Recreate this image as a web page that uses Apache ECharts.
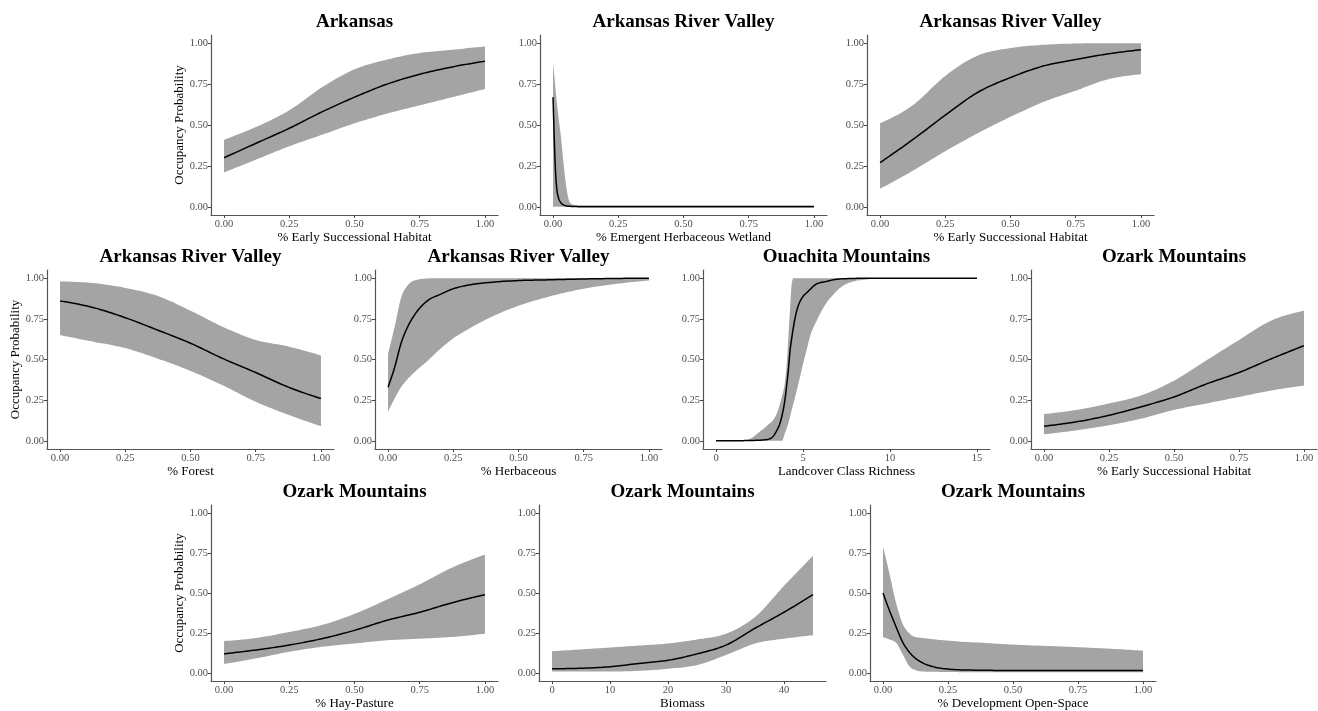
<!DOCTYPE html>
<html>
<head>
<meta charset="utf-8">
<script src="https://cdn.jsdelivr.net/npm/echarts@6/dist/echarts.min.js"></script>
<style>
html,body{margin:0;padding:0;background:#fff;}
#chart{width:1318px;height:711px;}
</style>
</head>
<body>
<div id="chart"></div>
<script>
// ---------- data ----------
const yTicks = [0, 0.25, 0.5, 0.75, 1];
const propTicks = [0, 0.25, 0.5, 0.75, 1];
const richTicks = [0, 5, 10, 15];
const biomassTicks = [0, 10, 20, 30, 40];

const titles = ["Arkansas", "Arkansas River Valley", "Arkansas River Valley",
  "Arkansas River Valley", "Arkansas River Valley", "Ouachita Mountains", "Ozark Mountains",
  "Ozark Mountains", "Ozark Mountains", "Ozark Mountains"];
const xNames = ["% Early Successional Habitat", "% Emergent Herbaceous Wetland", "% Early Successional Habitat",
  "% Forest", "% Herbaceous", "Landcover Class Richness", "% Early Successional Habitat",
  "% Hay-Pasture", "Biomass", "% Development Open-Space"];
const yName = "Occupancy Probability";

const xEighths = [0, 0.125, 0.25, 0.375, 0.5, 0.625, 0.75, 0.875, 1];

// 1 Arkansas – early successional
const p1X = xEighths;
const p1Mean = [0.30, 0.39, 0.48, 0.58, 0.67, 0.75, 0.81, 0.855, 0.89];
const p1Upper = [0.41, 0.49, 0.59, 0.73, 0.84, 0.90, 0.94, 0.96, 0.98];
const p1Lower = [0.21, 0.29, 0.37, 0.44, 0.51, 0.57, 0.62, 0.67, 0.72];

// 2 ARV – emergent herbaceous wetland
const p2X = [0, 0.005, 0.01, 0.015, 0.02, 0.03, 0.04, 0.05, 0.065, 0.08, 0.1, 0.12, 0.25, 0.5, 0.75, 1];
const p2Mean = [0.67, 0.40, 0.20, 0.10, 0.06, 0.025, 0.012, 0.006, 0.003, 0.002, 0.001, 0.001, 0, 0, 0, 0];
const p2Upper = [0.88, 0.80, 0.71, 0.63, 0.56, 0.43, 0.27, 0.13, 0.025, 0.012, 0.01, 0.01, 0.01, 0.01, 0.01, 0.01];
const p2Lower = [0, 0, 0, 0, 0, 0, 0, 0, 0, 0, 0, 0, 0, 0, 0, 0];

// 3 ARV – early successional
const p3X = xEighths;
const p3Mean = [0.27, 0.41, 0.56, 0.70, 0.79, 0.86, 0.90, 0.935, 0.96];
const p3Upper = [0.51, 0.62, 0.80, 0.925, 0.97, 0.99, 0.998, 1.0, 1.0];
const p3Lower = [0.11, 0.22, 0.34, 0.45, 0.55, 0.64, 0.71, 0.78, 0.81];

// 4 ARV – forest
const p4X = xEighths;
const p4Mean = [0.86, 0.82, 0.757, 0.68, 0.60, 0.505, 0.42, 0.33, 0.26];
const p4Upper = [0.98, 0.97, 0.94, 0.89, 0.80, 0.70, 0.62, 0.58, 0.525];
const p4Lower = [0.65, 0.61, 0.57, 0.505, 0.43, 0.34, 0.24, 0.16, 0.09];

// 5 ARV – herbaceous
const p5X = [0, 0.025, 0.05, 0.075, 0.1, 0.15, 0.2, 0.25, 0.3, 0.4, 0.5, 0.625, 0.75, 0.875, 1];
const p5Mean = [0.33, 0.45, 0.60, 0.70, 0.77, 0.86, 0.90, 0.935, 0.955, 0.975, 0.985, 0.99, 0.995, 0.998, 1.0];
const p5Upper = [0.535, 0.70, 0.88, 0.955, 0.985, 0.998, 1, 1, 1, 1, 1, 1, 1, 1, 1];
const p5Lower = [0.18, 0.26, 0.33, 0.38, 0.42, 0.49, 0.565, 0.63, 0.68, 0.765, 0.83, 0.89, 0.935, 0.965, 0.985];

// 6 Ouachita – landcover class richness
const p6X = [0, 1, 1.75, 2.5, 3, 3.3, 3.5, 3.68, 3.78, 3.97, 4.07, 4.16, 4.26, 4.35, 4.45, 4.64, 4.8, 5.02, 5.21, 5.4, 5.79, 6.36, 6.75, 7.13, 7.9, 8.5, 10, 15];
const p6Mean = [0, 0, 0.002, 0.004, 0.01, 0.03, 0.065, 0.11, 0.15, 0.26, 0.35, 0.44, 0.56, 0.63, 0.70, 0.80, 0.85, 0.89, 0.91, 0.93, 0.965, 0.98, 0.99, 0.995, 0.998, 1, 1, 1];
const p6Upper = [0, 0.002, 0.006, 0.055, 0.10, 0.13, 0.17, 0.23, 0.27, 0.37, 0.48, 0.64, 0.82, 0.965, 1, 1, 1, 1, 1, 1, 1, 1, 1, 1, 1, 1, 1, 1];
const p6Lower = [0, 0, 0, 0, 0, 0, 0, 0, 0, 0.05, 0.08, 0.11, 0.15, 0.19, 0.23, 0.31, 0.38, 0.48, 0.56, 0.64, 0.74, 0.85, 0.90, 0.94, 0.98, 0.99, 1, 1];

// 7 Ozark – early successional
const p7X = xEighths;
const p7Mean = [0.09, 0.117, 0.157, 0.21, 0.27, 0.35, 0.42, 0.505, 0.585];
const p7Upper = [0.165, 0.19, 0.23, 0.28, 0.37, 0.495, 0.62, 0.74, 0.80];
const p7Lower = [0.04, 0.065, 0.096, 0.137, 0.19, 0.23, 0.27, 0.31, 0.34];

// 8 Ozark – hay-pasture
const p8X = xEighths;
const p8Mean = [0.12, 0.145, 0.175, 0.215, 0.267, 0.33, 0.38, 0.44, 0.49];
const p8Upper = [0.20, 0.22, 0.257, 0.30, 0.37, 0.46, 0.555, 0.66, 0.74];
const p8Lower = [0.057, 0.092, 0.133, 0.164, 0.185, 0.205, 0.215, 0.226, 0.246];

// 9 Ozark – biomass
const p9X = [0, 5, 10, 15, 20, 25, 30, 35, 40, 45];
const p9Mean = [0.027, 0.03, 0.04, 0.06, 0.08, 0.12, 0.175, 0.28, 0.38, 0.49];
const p9Upper = [0.137, 0.148, 0.16, 0.172, 0.185, 0.21, 0.246, 0.35, 0.545, 0.733];
const p9Lower = [0.01, 0.01, 0.01, 0.014, 0.027, 0.05, 0.113, 0.185, 0.215, 0.236];

// 10 Ozark – development open-space
const p10X = [0, 0.025, 0.05, 0.075, 0.1, 0.125, 0.15, 0.2, 0.25, 0.3, 0.375, 0.5, 0.625, 0.75, 0.875, 1];
const p10Mean = [0.50, 0.39, 0.29, 0.195, 0.133, 0.092, 0.066, 0.037, 0.025, 0.02, 0.018, 0.016, 0.016, 0.016, 0.016, 0.016];
const p10Upper = [0.79, 0.62, 0.44, 0.31, 0.25, 0.225, 0.22, 0.21, 0.203, 0.196, 0.19, 0.178, 0.17, 0.162, 0.152, 0.14];
const p10Lower = [0.225, 0.21, 0.19, 0.12, 0.045, 0.018, 0.01, 0.008, 0.007, 0.006, 0.006, 0.005, 0.005, 0.005, 0.005, 0.005];

// ---------- layout ----------
const FONT = "'Liberation Serif', 'DejaVu Serif', serif";
const panels = [
  {x: p1X, m: p1Mean, u: p1Upper, l: p1Lower, ticks: propTicks, range: [-0.05, 1.05], dec: 2, grid: [211, 35, 287, 180], yTitle: true},
  {x: p2X, m: p2Mean, u: p2Upper, l: p2Lower, ticks: propTicks, range: [-0.05, 1.05], dec: 2, grid: [540, 35, 287, 180]},
  {x: p3X, m: p3Mean, u: p3Upper, l: p3Lower, ticks: propTicks, range: [-0.05, 1.05], dec: 2, grid: [867, 35, 287, 180]},
  {x: p4X, m: p4Mean, u: p4Upper, l: p4Lower, ticks: propTicks, range: [-0.05, 1.05], dec: 2, grid: [47, 270, 287, 179], yTitle: true},
  {x: p5X, m: p5Mean, u: p5Upper, l: p5Lower, ticks: propTicks, range: [-0.05, 1.05], dec: 2, grid: [375, 270, 287, 179]},
  {x: p6X, m: p6Mean, u: p6Upper, l: p6Lower, ticks: richTicks, range: [-0.75, 15.75], dec: 0, grid: [703, 270, 287, 179]},
  {x: p7X, m: p7Mean, u: p7Upper, l: p7Lower, ticks: propTicks, range: [-0.05, 1.05], dec: 2, grid: [1031, 270, 286, 179]},
  {x: p8X, m: p8Mean, u: p8Upper, l: p8Lower, ticks: propTicks, range: [-0.05, 1.05], dec: 2, grid: [211, 505, 287, 178], yTitle: true},
  {x: p9X, m: p9Mean, u: p9Upper, l: p9Lower, ticks: biomassTicks, range: [-2.25, 47.25], dec: 0, grid: [539, 505, 287, 178]},
  {x: p10X, m: p10Mean, u: p10Upper, l: p10Lower, ticks: propTicks, range: [-0.05, 1.05], dec: 2, grid: [870, 505, 286, 178]}
];

// monotone (Fritsch–Carlson / d3 monotoneX) curve through pixel points, for drawing only
function monoCurve(pts, seg) {
  const n = pts.length;
  if (n < 3) return pts.slice();
  const h = [], m = [];
  for (let i = 0; i < n - 1; i++) {
    h[i] = pts[i + 1][0] - pts[i][0];
    m[i] = h[i] ? (pts[i + 1][1] - pts[i][1]) / h[i] : 0;
  }
  const t = new Array(n);
  for (let i = 1; i < n - 1; i++) {
    const s0 = m[i - 1], s1 = m[i], h0 = h[i - 1], h1 = h[i];
    const p = (s0 * h1 + s1 * h0) / (h0 + h1);
    t[i] = (Math.sign(s0) + Math.sign(s1)) * Math.min(Math.abs(s0), Math.abs(s1), 0.5 * Math.abs(p)) || 0;
  }
  t[0] = (3 * m[0] - t[1]) / 2;
  t[n - 1] = (3 * m[n - 2] - t[n - 2]) / 2;
  if (Math.sign(t[0]) !== Math.sign(m[0])) t[0] = 0;
  if (Math.sign(t[n - 1]) !== Math.sign(m[n - 2])) t[n - 1] = 0;
  const out = [pts[0]];
  for (let i = 0; i < n - 1; i++) {
    const [x0, y0] = pts[i], [x1, y1] = pts[i + 1], dx = h[i];
    for (let s = 1; s <= seg; s++) {
      const u = s / seg, u2 = u * u, u3 = u2 * u;
      const y = (2 * u3 - 3 * u2 + 1) * y0 + (u3 - 2 * u2 + u) * dx * t[i] +
                (-2 * u3 + 3 * u2) * y1 + (u3 - u2) * dx * t[i + 1];
      out.push([x0 + u * dx, y]);
    }
  }
  return out;
}

const grids = [], xAxes = [], yAxes = [], series = [], graphics = [];
const axisCommon = {
  axisLine: {show: true, onZero: false, lineStyle: {color: '#555', width: 1.2}},
  splitLine: {show: false},
  nameTextStyle: {fontFamily: FONT, fontSize: 13, color: '#000'}
};

panels.forEach((p, i) => {
  const [gl, gt, gw, gh] = p.grid;
  grids.push({left: gl, top: gt, width: gw, height: gh, containLabel: false});
  xAxes.push(Object.assign({}, axisCommon, {
    type: 'value', gridIndex: i, min: p.range[0], max: p.range[1],
    axisTick: {show: true, length: 3, customValues: p.ticks, lineStyle: {color: '#444'}},
    axisLabel: {customValues: p.ticks, color: '#4d4d4d', fontFamily: FONT, fontSize: 10.5, margin: 4,
      formatter: v => Number(v).toFixed(p.dec)},
    name: xNames[i], nameLocation: 'middle', nameGap: 15
  }));
  yAxes.push(Object.assign({}, axisCommon, {
    type: 'value', gridIndex: i, min: -0.05, max: 1.05,
    axisTick: {show: true, length: 3, customValues: yTicks, lineStyle: {color: '#444'}},
    axisLabel: {customValues: yTicks, color: '#4d4d4d', fontFamily: FONT, fontSize: 10.5, margin: 3,
      formatter: v => Number(v).toFixed(2)},
    name: p.yTitle ? yName : '', nameLocation: 'middle', nameGap: 21
  }));
  const xs = p.x, lo = p.l, hi = p.u, mean = p.m;
  series.push({
    type: 'custom', xAxisIndex: i, yAxisIndex: i, silent: true, z: 2,
    data: xs.map((x, k) => [x, lo[k], hi[k], mean[k]]),
    encode: {x: 0, y: [1, 2, 3]},
    renderItem: function (params, api) {
      if (params.dataIndex !== 0) return null;
      const up = monoCurve(xs.map((x, k) => api.coord([x, hi[k]])), 12);
      const dn = monoCurve(xs.map((x, k) => api.coord([x, lo[k]])), 12);
      const mid = monoCurve(xs.map((x, k) => api.coord([x, mean[k]])), 12);
      return {
        type: 'group',
        children: [
          {type: 'polygon', shape: {points: up.concat(dn.reverse())}, style: {fill: '#a4a4a4', stroke: null}},
          {type: 'polyline', shape: {points: mid}, style: {stroke: '#000', lineWidth: 1.5, fill: null}}
        ]
      };
    }
  });
  graphics.push({
    type: 'text', x: gl + gw / 2, y: gt - 13,
    style: {text: titles[i], fontFamily: FONT, fontSize: 19, fontWeight: 'bold', fill: '#000',
      textAlign: 'center', textVerticalAlign: 'middle'}
  });
});

const chart = echarts.init(document.getElementById('chart'), null, {renderer: 'canvas'});
chart.setOption({
  backgroundColor: '#fff',
  animation: false,
  grid: grids, xAxis: xAxes, yAxis: yAxes, series: series,
  graphic: graphics
});
</script>
</body>
</html>
